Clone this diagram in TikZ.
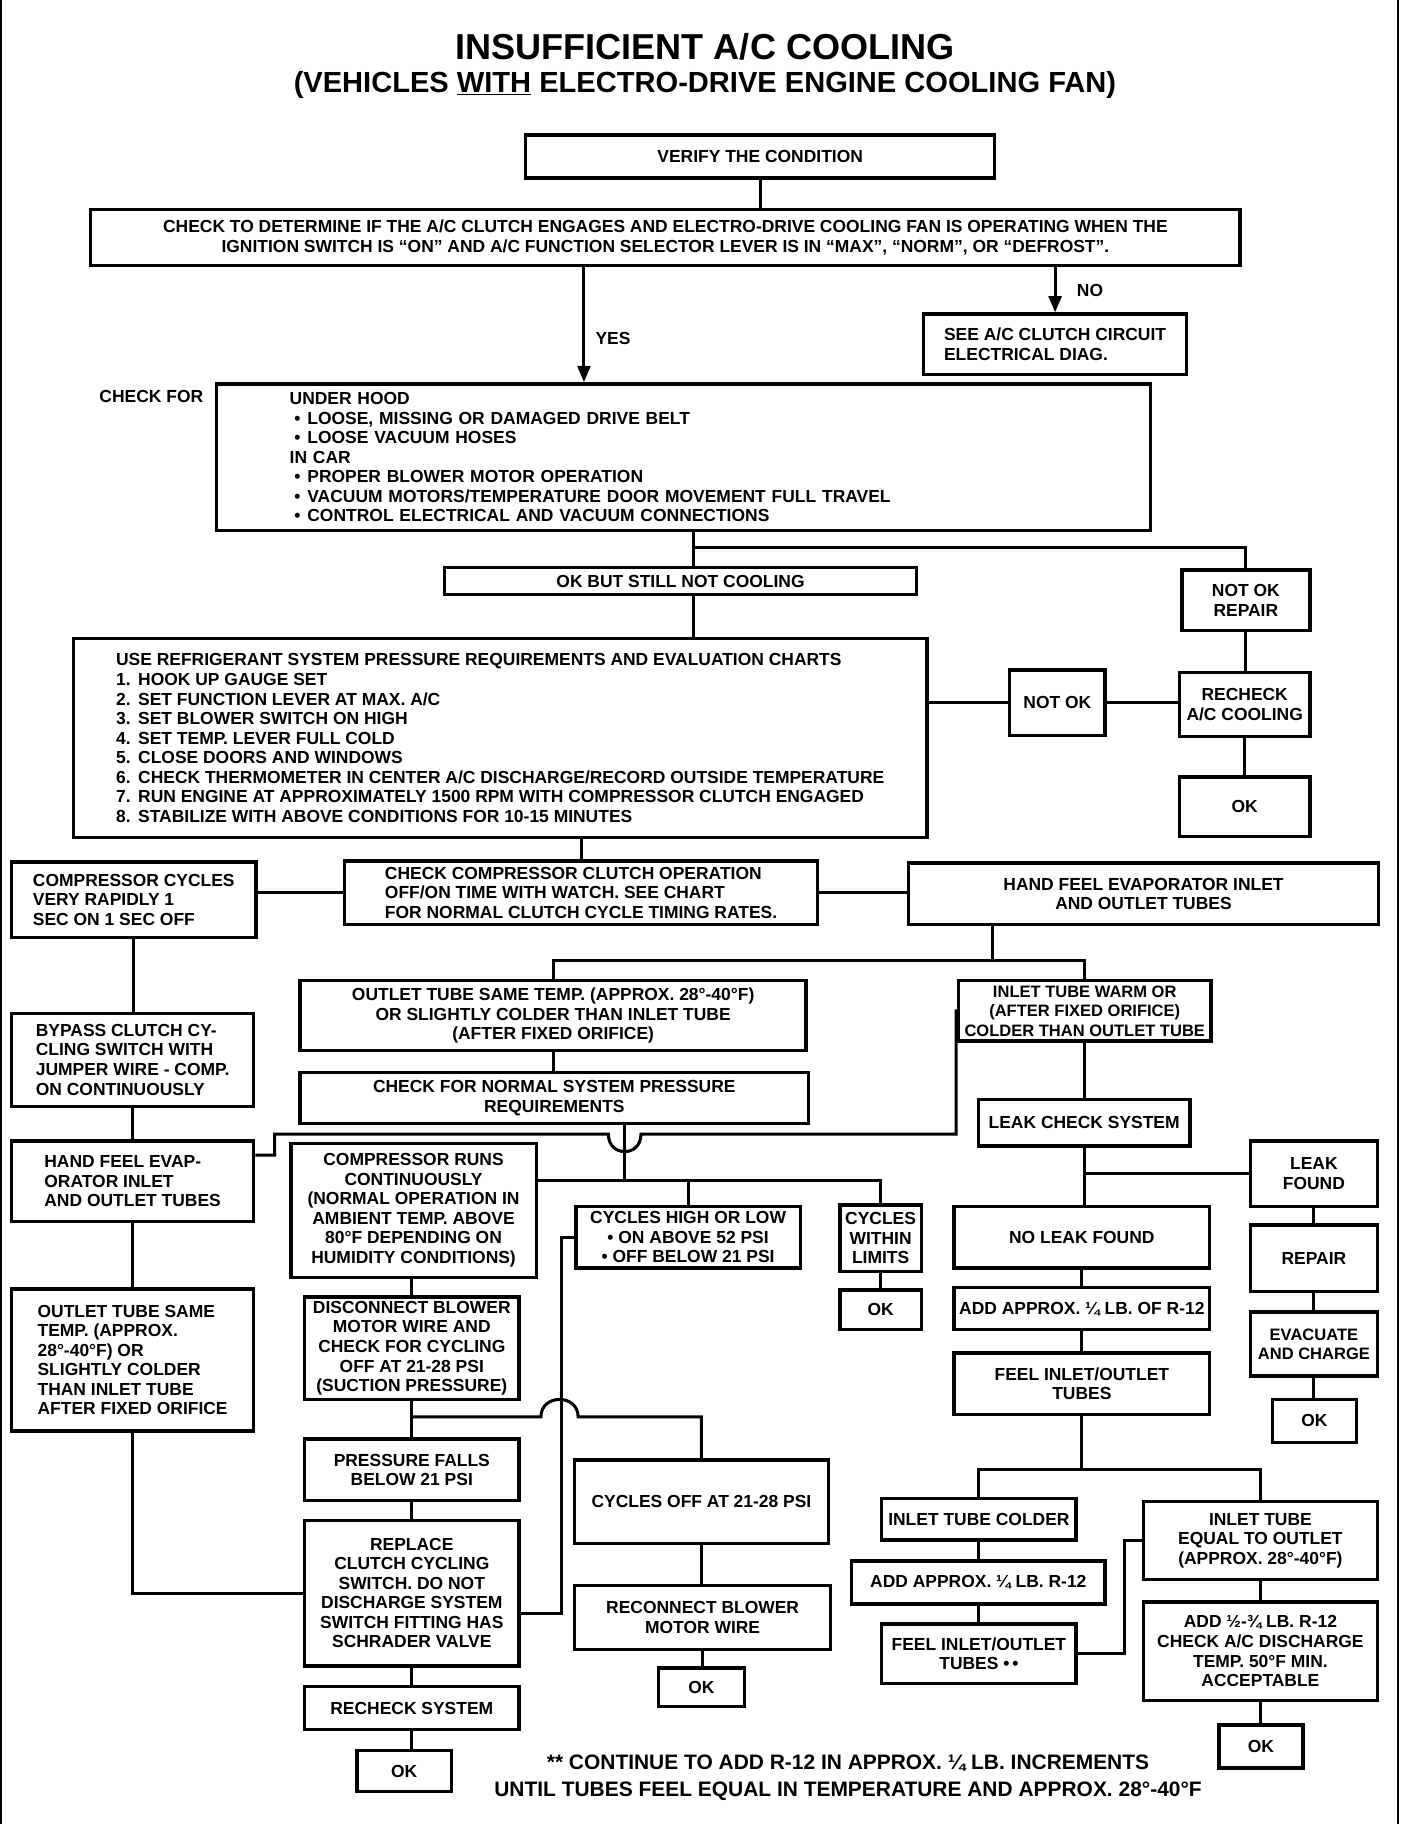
\documentclass[tikz,border=0pt]{standalone}
\usepackage{fontspec}
\setmainfont{Liberation Sans}
\usetikzlibrary{arrows.meta}
\newcommand\boxfont{\fontsize{15}{16.8}\selectfont\bfseries}
\newcommand\tightfont{\fontsize{14.2}{16.8}\selectfont\bfseries}
\newcommand\notefont{\fontsize{18}{23}\selectfont\bfseries}
\newcommand\bul{\hspace*{4pt}\textbullet\hspace{6pt}}
\newcommand\stepnum[1]{\makebox[19pt][l]{#1}}

\begin{document}
\begin{tikzpicture}[x=1pt,y=-1pt,
  box/.style={draw,line width=2.9pt,inner sep=0pt,align=center,font=\boxfont},
  lbox/.style={box,align=left},
  wh/.style 2 args={minimum width=#1pt,minimum height=#2pt},
  link/.style={line width=2.6pt},
  flow/.style={link,-{Triangle[length=14pt,width=11pt]}},
  lab/.style={font=\boxfont}]

  \useasboundingbox (0,0) rectangle (1210,1568);
  \draw[line width=2pt] (1,0) -- (1,1568);
  \draw[line width=2pt] (1202,0) -- (1202,1568);

  \draw (606,40) node[font=\fontsize{31}{31}\selectfont\bfseries] (title) {INSUFFICIENT A/C COOLING};
  \draw (606,73) node[font=\fontsize{25}{25}\selectfont\bfseries] (subtitle) {(VEHICLES \underline{WITH} ELECTRO-DRIVE ENGINE COOLING FAN)};

  \draw (653.5,134.5) node[box,wh={403}{37}] (verify) {VERIFY THE CONDITION};
  \draw (572,204) node[box,wh={988}{48}] (check) {CHECK TO DETERMINE IF THE A/C CLUTCH ENGAGES AND ELECTRO-DRIVE COOLING FAN IS OPERATING WHEN THE\\IGNITION SWITCH IS ``ON'' AND A/C FUNCTION SELECTOR LEVER IS IN ``MAX'', ``NORM'', OR ``DEFROST''.};
  \draw (907,296) node[lbox,wh={226}{52}] (seediag) {SEE A/C CLUTCH CIRCUIT\\ELECTRICAL DIAG.};
  \draw (527,291) node[lab] (yes) {YES};
  \draw (937,250) node[lab] (no) {NO};
  \draw (82,341) node[lab,anchor=west] (checkforlab) {CHECK FOR};
  \draw (587.5,393) node[lbox,wh={803}{126},text width=677pt] (checkfor) {UNDER HOOD\\\bul LOOSE, MISSING OR DAMAGED DRIVE BELT\\\bul LOOSE VACUUM HOSES\\IN CAR\\\bul PROPER BLOWER MOTOR OPERATION\\\bul VACUUM MOTORS/TEMPERATURE DOOR MOVEMENT FULL TRAVEL\\\bul CONTROL ELECTRICAL AND VACUUM CONNECTIONS};
  \draw (585,499.5) node[box,wh={406}{23}] (okbut) {OK BUT STILL NOT COOLING};
  \draw (1071,516) node[box,wh={110}{52}] (notokrep) {NOT OK\\REPAIR};
  \draw (1070,605.5) node[box,wh={112}{55}] (recheck) {RECHECK\\A/C COOLING};
  \draw (1070,693.5) node[box,wh={112}{51}] (okrc) {OK};
  \draw (909,604) node[box,wh={82}{56}] (notok) {NOT OK};
  \draw (430,634.5) node[lbox,wh={734}{171}] (userefr) {USE REFRIGERANT SYSTEM PRESSURE REQUIREMENTS AND EVALUATION CHARTS\\\stepnum{1.}HOOK UP GAUGE SET\\\stepnum{2.}SET FUNCTION LEVER AT MAX. A/C\\\stepnum{3.}SET BLOWER SWITCH ON HIGH\\\stepnum{4.}SET TEMP. LEVER FULL COLD\\\stepnum{5.}CLOSE DOORS AND WINDOWS\\\stepnum{6.}CHECK THERMOMETER IN CENTER A/C DISCHARGE/RECORD OUTSIDE TEMPERATURE\\\stepnum{7.}RUN ENGINE AT APPROXIMATELY 1500 RPM WITH COMPRESSOR CLUTCH ENGAGED\\\stepnum{8.}STABILIZE WITH ABOVE CONDITIONS FOR 10-15 MINUTES};
  \draw (499.5,767.5) node[lbox,wh={407}{55}] (ccheck) {CHECK COMPRESSOR CLUTCH OPERATION\\OFF/ON TIME WITH WATCH. SEE CHART\\FOR NORMAL CLUTCH CYCLE TIMING RATES.};
  \draw (115,773.5) node[lbox,wh={210}{65}] (lcycles) {COMPRESSOR CYCLES\\VERY RAPIDLY 1\\SEC ON 1 SEC OFF};
  \draw (983,768.5) node[box,wh={404}{53}] (rhand) {HAND FEEL EVAPORATOR INLET\\AND OUTLET TUBES};
  \draw (475.5,873) node[box,wh={435}{60}] (outsame) {OUTLET TUBE SAME TEMP. (APPROX. 28°-40°F)\\OR SLIGHTLY COLDER THAN INLET TUBE\\(AFTER FIXED ORIFICE)};
  \draw (932.5,869) node[box,wh={217}{52},font=\tightfont] (inwarm) {INLET TUBE WARM OR\\(AFTER FIXED ORIFICE)\\COLDER THAN OUTLET TUBE};
  \draw (476.5,944) node[box,wh={437}{44}] (normpr) {CHECK FOR NORMAL SYSTEM PRESSURE\\REQUIREMENTS};
  \draw (114,911) node[lbox,wh={208}{80}] (bypass) {BYPASS CLUTCH CY-\\CLING SWITCH WITH\\JUMPER WIRE - COMP.\\ON CONTINUOUSLY};
  \draw (114,1015.5) node[lbox,wh={208}{69}] (lhand) {HAND FEEL EVAP-\\ORATOR INLET\\AND OUTLET TUBES};
  \draw (114,1169) node[lbox,wh={208}{122}] (lout) {OUTLET TUBE SAME\\TEMP. (APPROX.\\28°-40°F) OR\\SLIGHTLY COLDER\\THAN INLET TUBE\\AFTER FIXED ORIFICE};
  \draw (355.5,1040.5) node[box,wh={211}{115}] (comprun) {COMPRESSOR RUNS\\CONTINUOUSLY\\(NORMAL OPERATION IN\\AMBIENT TEMP. ABOVE\\80°F DEPENDING ON\\HUMIDITY CONDITIONS)};
  \draw (354,1159) node[box,wh={184}{88}] (disc) {DISCONNECT BLOWER\\MOTOR WIRE AND\\CHECK FOR CYCLING\\OFF AT 21-28 PSI\\(SUCTION PRESSURE)};
  \draw (354,1263.5) node[box,wh={184}{53}] (pfall) {PRESSURE FALLS\\BELOW 21 PSI};
  \draw (354,1369.5) node[box,wh={184}{125}] (replace) {REPLACE\\CLUTCH CYCLING\\SWITCH. DO NOT\\DISCHARGE SYSTEM\\SWITCH FITTING HAS\\SCHRADER VALVE};
  \draw (354,1468.5) node[box,wh={184}{37}] (recsys) {RECHECK SYSTEM};
  \draw (347.5,1522.5) node[box,wh={81}{35}] (okrs) {OK};
  \draw (603,1291) node[box,wh={218}{72}] (cycoff) {CYCLES OFF AT 21-28 PSI};
  \draw (604,1390.5) node[box,wh={220}{55}] (reconn) {RECONNECT BLOWER\\MOTOR WIRE};
  \draw (603,1450.5) node[box,wh={74}{33}] (okrec) {OK};
  \draw (591.5,1063.5) node[box,wh={193}{53}] (cychigh) {CYCLES HIGH OR LOW\\\textbullet\ ON ABOVE 52 PSI\\\textbullet\ OFF BELOW 21 PSI};
  \draw (757,1064.5) node[box,wh={70}{57}] (cycwith) {CYCLES\\WITHIN\\LIMITS};
  \draw (757,1126) node[box,wh={70}{34}] (okcw) {OK};
  \draw (932,965) node[box,wh={182}{40}] (leakchk) {LEAK CHECK SYSTEM};
  \draw (930,1063.5) node[box,wh={220}{53}] (noleak) {NO LEAK FOUND};
  \draw (1129.5,1009) node[box,wh={109}{56}] (leakfnd) {LEAK\\FOUND};
  \draw (1129.5,1081.5) node[box,wh={109}{57}] (repair) {REPAIR};
  \draw (1129.5,1155.5) node[box,wh={109}{55},font=\tightfont] (evac) {EVACUATE\\AND CHARGE};
  \draw (1130,1221.5) node[box,wh={72}{37}] (okev) {OK};
  \draw (930,1125) node[box,wh={220}{36}] (addq) {ADD APPROX. ¼ LB. OF R-12};
  \draw (930,1189.5) node[box,wh={220}{53}] (feel1) {FEEL INLET/OUTLET\\TUBES};
  \draw (841.5,1306) node[box,wh={167}{36}] (incold) {INLET TUBE COLDER};
  \draw (841,1360.5) node[box,wh={218}{37}] (addq2) {ADD APPROX. ¼ LB. R-12};
  \draw (841.5,1421.5) node[box,wh={167}{51}] (feel2) {FEEL INLET/OUTLET\\TUBES \textbullet\,\textbullet};
  \draw (1083.5,1324.5) node[box,wh={201}{67}] (ineq) {INLET TUBE\\EQUAL TO OUTLET\\(APPROX. 28°-40°F)};
  \draw (1083.5,1419.5) node[box,wh={201}{85}] (addhalf) {ADD ½-¾ LB. R-12\\CHECK A/C DISCHARGE\\TEMP. 50°F MIN.\\ACCEPTABLE};
  \draw (1084,1501.5) node[box,wh={72}{37}] (okhalf) {OK};
  \draw (729,1528) node[font=\notefont,align=center] (note) {** CONTINUE TO ADD R-12 IN APPROX. ¼ LB. INCREMENTS\\UNTIL TUBES FEEL EQUAL IN TEMPERATURE AND APPROX. 28°-40°F};

  \draw[link] (verify.south) -- (verify.south |- check.north);
  \draw[flow] ([xshift=-70pt]check.south) -- ([xshift=-70pt]check.south |- checkfor.north);
  \draw[flow] (check.south -| seediag.north) -- (seediag.north);
  \coordinate (j1) at (596,471);
  \draw[link] (checkfor.south -| j1) -- (j1 |- okbut.north);
  \draw[link] (j1) -| (notokrep.north);
  \draw[link] (notokrep.south) -- (notokrep.south |- recheck.north);
  \draw[link] (recheck.south) -- (recheck.south |- okrc.north);
  \draw[link] (j1 |- okbut.south) -- (j1 |- userefr.north);
  \draw[link] (userefr.east |- notok.west) -- (notok.west);
  \draw[link] (notok.east) -- (notok.east -| recheck.west);
  \draw[link] (ccheck.north |- userefr.south) -- (ccheck.north);
  \draw[link] (ccheck.west) -- (ccheck.west -| lcycles.east);
  \draw[link] (ccheck.east) -- (ccheck.east -| rhand.west);
  \coordinate (j2) at (853,826);
  \draw[link] (rhand.south -| j2) -- (j2);
  \draw[link] (outsame.north) |- (j2) -| (inwarm.north);
  \draw[link] (outsame.south) -- (outsame.south |- normpr.north);
  \draw[link] (lcycles.south) -- (lcycles.south |- bypass.north);
  \draw[link] (bypass.south) -- (bypass.south |- lhand.north);
  \draw[link] (lhand.south) -- (lhand.south |- lout.north);
  \draw[link] ([yshift=22.5pt]lhand.east) -- (236,993) -- (236,975) -- (523,975)
    .. controls (523,995) and (551,995) .. (551,975) -- (822,975) |- (inwarm.west);
  \coordinate (j3) at (537,1015);
  \draw[link] (normpr.south -| j3) -- (j3);
  \draw[link] (comprun.east |- j3) -- (j3 -| cycwith.north) -- (cycwith.north);
  \draw[link] (j3 -| cychigh.north) -- (cychigh.north);
  \draw[link] (comprun.south -| disc.north) -- (disc.north);
  \coordinate (j4) at (354,1218);
  \draw[link] (disc.south) -- (pfall.north);
  \draw[link] (j4) -- (465,1218) .. controls (465,1198) and (497,1198) .. (497,1218) -| (cycoff.north);
  \draw[link] (pfall.south) -- (replace.north);
  \draw[link] (lout.south) |- (replace.west);
  \draw[link] ([yshift=-17.5pt]replace.east) -- ++(35,0) |- (cychigh.west);
  \draw[link] (replace.south) -- (recsys.north);
  \draw[link] (recsys.south) -- (recsys.south |- okrs.north);
  \draw[link] (cycoff.south) -- (cycoff.south |- reconn.north);
  \draw[link] (reconn.south) -- (reconn.south |- okrec.north);
  \draw[link] (cycwith.south) -- (okcw.north);
  \draw[link] (inwarm.south) -- (inwarm.south |- leakchk.north);
  \draw[link] (leakchk.south) -- (leakchk.south |- noleak.north);
  \draw[link] (leakchk.south |- leakfnd.west) -- (leakfnd.west);
  \draw[link] (leakfnd.south) -- (leakfnd.south |- repair.north);
  \draw[link] (repair.south) -- (repair.south |- evac.north);
  \draw[link] (evac.south) -- (evac.south |- okev.north);
  \draw[link] (noleak.south) -- (noleak.south |- addq.north);
  \draw[link] (addq.south) -- (addq.south |- feel1.north);
  \coordinate (j6) at (930,1263);
  \draw[link] (feel1.south) -- (j6);
  \draw[link] (incold.north) |- (j6) -| (ineq.north);
  \draw[link] (incold.south) -- (incold.south |- addq2.north);
  \draw[link] (addq2.south -| incold.south) -- (feel2.north);
  \draw[link] (feel2.east) -- ++(40,0) |- (ineq.west);
  \draw[link] (ineq.south) -- (ineq.south |- addhalf.north);
  \draw[link] (addhalf.south) -- (addhalf.south |- okhalf.north);

\end{tikzpicture}
\end{document}
